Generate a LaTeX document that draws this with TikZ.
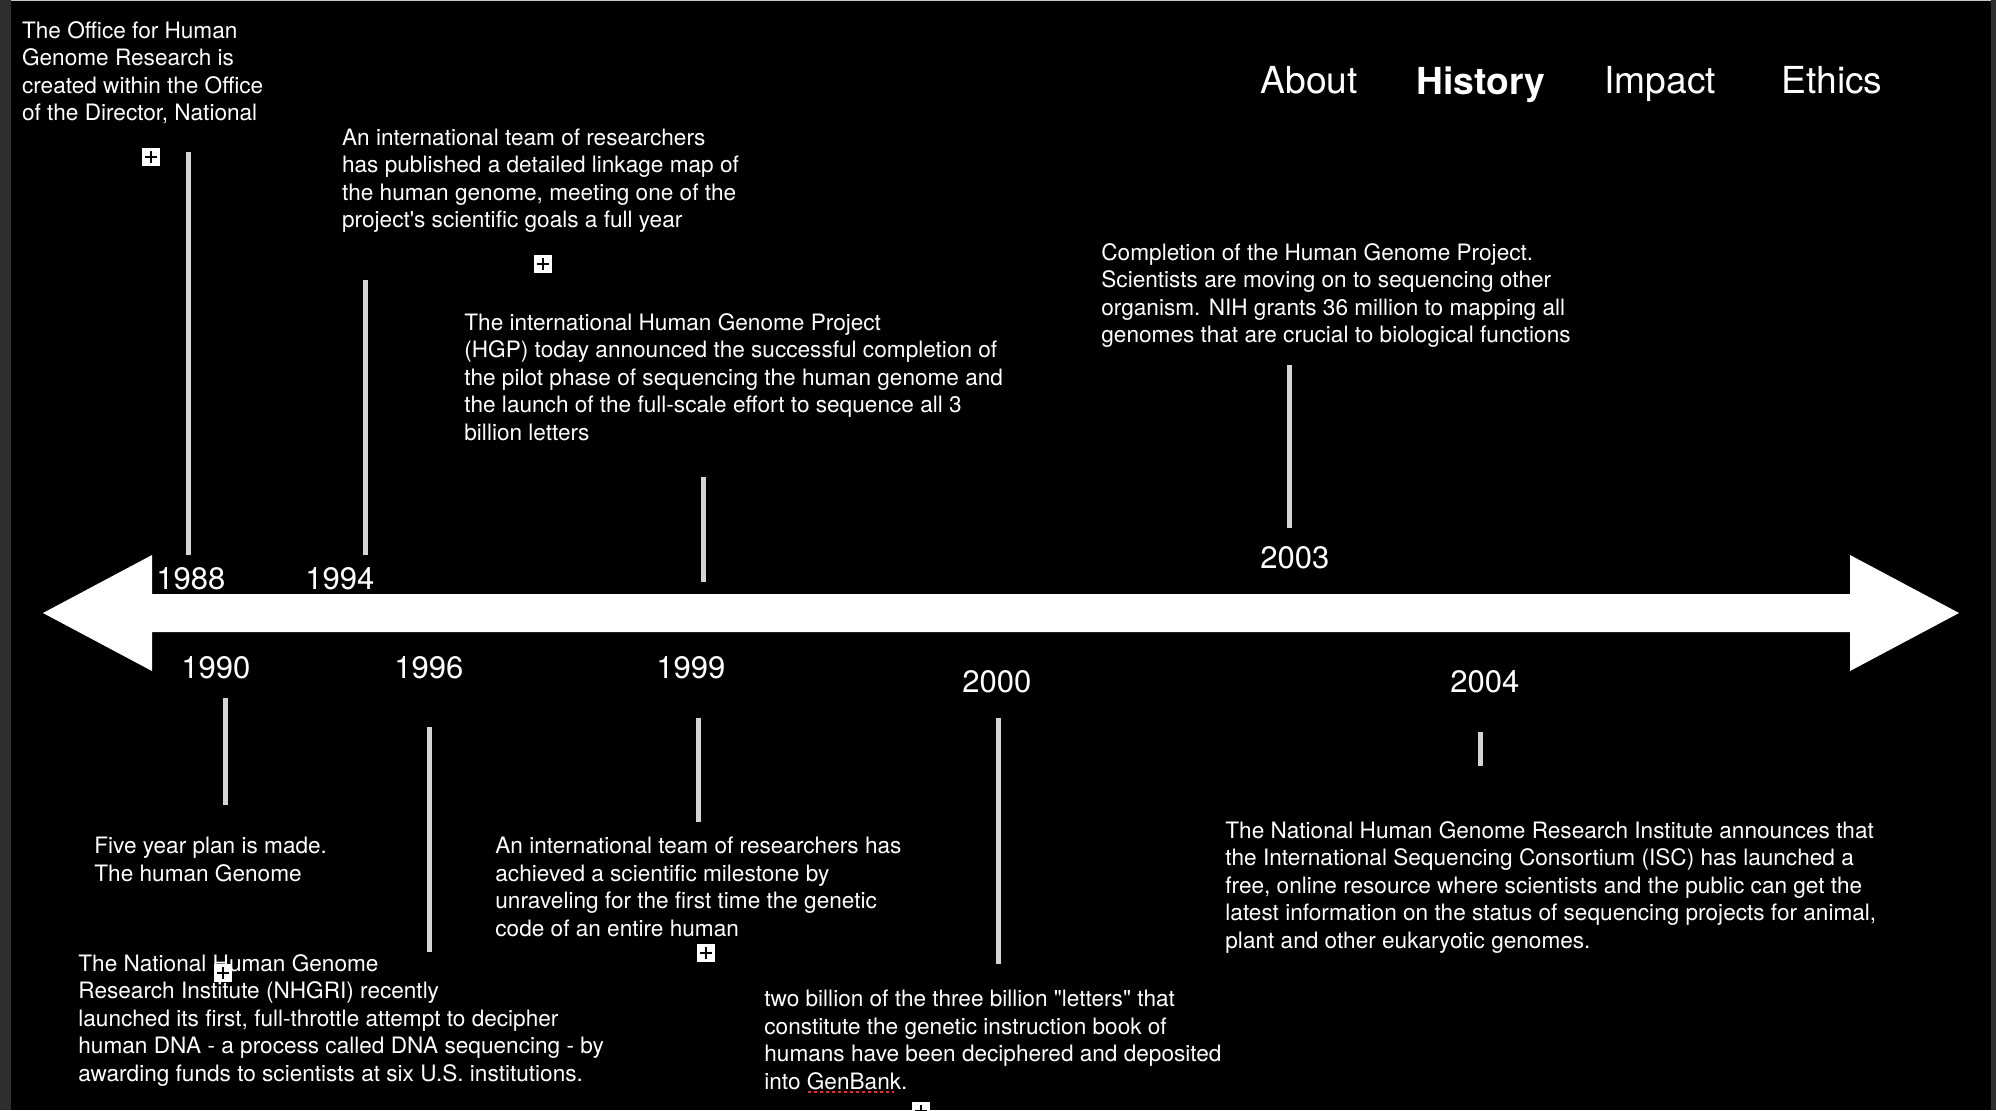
\documentclass[tikz,border=0pt]{standalone}
\usepackage{fontspec}
\setmainfont{TeX Gyre Heros}[Ligatures=TeXOff]
\definecolor{tickgray}{RGB}{212,212,212}
\definecolor{edgegray}{RGB}{46,46,46}
\definecolor{topline}{RGB}{200,200,200}
\definecolor{spellred}{RGB}{220,50,50}
\newcommand\blk[1]{\begin{tabular}[t]{@{}l@{}}#1\end{tabular}}
\begin{document}
\begin{tikzpicture}[x=0.5pt,y=-0.5pt,
  txt/.style={anchor=base west, inner sep=0pt, text=white, font=\fontsize{11.3}{13.8}\selectfont},
  yr/.style={anchor=base west, inner sep=0pt, text=white, font=\fontsize{15.5}{18}\selectfont},
  nav/.style={anchor=base west, inner sep=0pt, text=white, font=\fontsize{18.6}{22}\selectfont},
  tick/.style={draw=tickgray, line width=2.5pt},
  plusbox/.style={fill=white, minimum size=9pt, inner sep=0pt,
    path picture={
      \draw[black, line width=1pt] ([yshift=-1.5pt]path picture bounding box.north) -- ([yshift=1.5pt]path picture bounding box.south);
      \draw[black, line width=1pt] ([xshift=1.5pt]path picture bounding box.west) -- ([xshift=-1.5pt]path picture bounding box.east);
    }}
]
\useasboundingbox (0,0) rectangle (1996,1110);
\fill[black] (0,0) rectangle (1996,1110);
\fill[edgegray] (0,0) rectangle (11,1110);
\fill[edgegray] (1991,0) rectangle (1996,1110);
\draw[topline, line width=0.5pt] (11,0.5) -- (1991,0.5);

% axis double arrow
\fill[white] (43,613) -- (152,555) -- (152,594) -- (1850,594) -- (1850,555) -- (1959,613)
  -- (1850,671) -- (1850,632) -- (152,632) -- (152,671) -- cycle;

% navigation
\node[nav] (about) at (1260,93) {About};
\node[nav, font=\fontsize{18.6}{22}\selectfont\bfseries] (history) at (1416,94) {History};
\node[nav] (impact) at (1604,93) {Impact};
\node[nav] (ethics) at (1781,93) {Ethics};

% ticks above
\draw[tick] (188.5,152) -- (188.5,555);
\draw[tick] (365,280) -- (365,555);
\draw[tick] (703,477) -- (703,582);
\draw[tick] (1289.5,365) -- (1289.5,528);
% ticks below
\draw[tick] (225,698) -- (225,805);
\draw[tick] (429,727) -- (429,952);
\draw[tick] (698,718) -- (698,822);
\draw[tick] (998,718) -- (998,964);
\draw[tick] (1480.5,732) -- (1480.5,766);

% years
\node[yr] (y1988) at (156,589) {1988};
\node[yr] (y1994) at (305,589) {1994};
\node[yr] (y2003) at (1260,568.5) {2003};
\node[yr] (y1990) at (181,678.5) {1990};
\node[yr] (y1996) at (394,678.5) {1996};
\node[yr] (y1999) at (656,678.5) {1999};
\node[yr] (y2000) at (962,692.5) {2000};
\node[yr] (y2004) at (1450,692.5) {2004};

% text blocks
\node[txt] (t1988) at (21.7,38) {\blk{The Office for Human\\Genome Research is\\created within the Office\\of the Director, National}};
\node[txt] (t1994) at (341.7,145) {\blk{An international team of researchers\\has published a detailed linkage map of\\the human genome, meeting one of the\\project's scientific goals a full year}};
\node[txt] (t1999a) at (464,330) {\blk{The international Human Genome Project\\(HGP) today announced the successful completion of\\the pilot phase of sequencing the human genome and\\the launch of the full-scale effort to sequence all 3\\billion letters}};
\node[txt] (t2003) at (1101,260) {\blk{Completion of the Human Genome Project.\\Scientists are moving on to sequencing other\\organism. NIH grants 36 million to mapping all\\genomes that are crucial to biological functions}};
\node[txt] (t1990) at (94,853.5) {\blk{Five year plan is made.\\The human Genome}};
\node[txt] (t1996) at (78,971) {\blk{The National Human Genome\\Research Institute (NHGRI) recently\\launched its first, full-throttle attempt to decipher\\human DNA - a process called DNA sequencing - by\\awarding funds to scientists at six U.S. institutions.}};
\node[txt] (t1999b) at (495,853.5) {\blk{An international team of researchers has\\achieved a scientific milestone by\\unraveling for the first time the genetic\\code of an entire human}};
\node[txt] (t2000) at (764,1006.7) {\blk{two billion of the three billion "letters" that\\constitute the genetic instruction book of\\humans have been deciphered and deposited\\into GenBank.}};
\node[txt] (t2004) at (1225,838) {\blk{The National Human Genome Research Institute announces that\\the International Sequencing Consortium (ISC) has launched a\\free, online resource where scientists and the public can get the\\latest information on the status of sequencing projects for animal,\\plant and other eukaryotic genomes.}};

% spell-check underline
\draw[spellred, line width=1.2pt, dash pattern=on 1.5pt off 1.5pt] (808,1092) -- (894,1092);

% plus icons
\node[plusbox] (p1) at (151,157) {};
\node[plusbox] (p2) at (543,264) {};
\node[plusbox] (p3) at (223,973) {};
\node[plusbox] (p4) at (705.5,952.5) {};
\node[plusbox] (p5) at (920.5,1110.5) {};
\end{tikzpicture}
\end{document}
